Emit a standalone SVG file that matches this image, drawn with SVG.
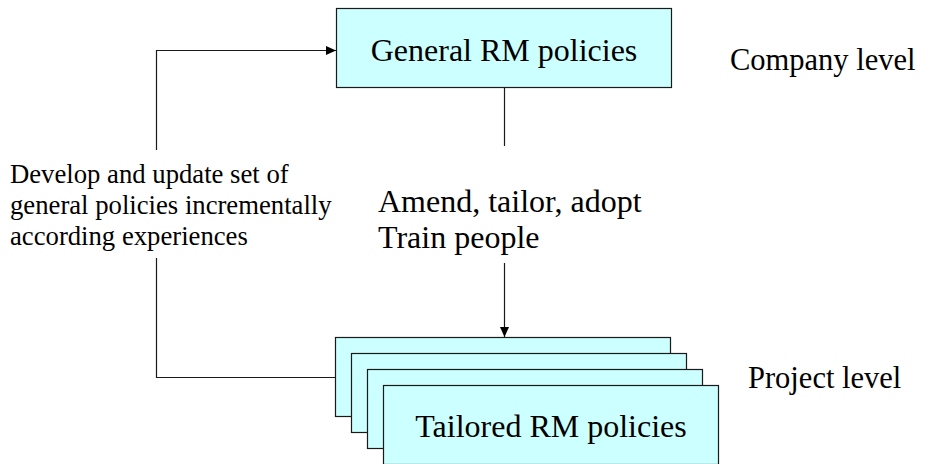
<svg xmlns="http://www.w3.org/2000/svg" width="928" height="464" viewBox="0 0 928 464">
  <style>
    .box { fill: #CCFFFF; stroke: #1a1a1a; stroke-width: 1.2; }
    .lbl { font-family: "Liberation Serif", "Times New Roman", serif; font-size: 32px; fill: #000; }
    .side { font-family: "Liberation Serif", "Times New Roman", serif; font-size: 26.7px; fill: #000; }
    .wire { fill: none; stroke: #1a1a1a; stroke-width: 1.2; }
  </style>
  <defs>
    <marker id="arrow" markerWidth="10" markerHeight="10" refX="10" refY="5" orient="auto" markerUnits="userSpaceOnUse">
      <path d="M0,0.5 L10,5 L0,9.5 Z" fill="#000"/>
    </marker>
  </defs>
  <rect width="928" height="464" fill="#fff"/>

  <!-- connectors -->
  <g id="connectors">
    <!-- general policies down to the tailoring step -->
    <path class="wire" d="M504.5,88 V146"/>
    <path class="wire" d="M504.5,263 V337" marker-end="url(#arrow)"/>
    <!-- feedback loop from project level back to company level -->
    <path class="wire" d="M335,377.5 H156.5 V258"/>
    <path class="wire" d="M156.5,150 V50.5 H336" marker-end="url(#arrow)"/>
  </g>

  <!-- company level -->
  <g id="general-policies">
    <rect class="box" x="336.5" y="8.5" width="335" height="79"/>
    <text class="lbl" x="504" y="61" text-anchor="middle">General RM policies</text>
  </g>

  <!-- project level: stack of tailored policy sheets -->
  <g id="tailored-policies">
    <rect class="box" x="335.5" y="337.5" width="335" height="79"/>
    <rect class="box" x="351.5" y="353.5" width="335" height="79"/>
    <rect class="box" x="367.5" y="369.5" width="335" height="79"/>
    <rect class="box" x="383.5" y="385.5" width="335" height="79"/>
    <text class="lbl" x="551" y="437" text-anchor="middle">Tailored RM policies</text>
  </g>

  <g id="tailor-step">
    <text class="lbl" x="378" y="212">Amend, tailor, adopt</text>
    <text class="lbl" x="378" y="248">Train people</text>
  </g>

  <g id="feedback-note">
    <text class="side" x="10" y="183">Develop and update set of</text>
    <text class="side" x="10" y="214">general policies incrementally</text>
    <text class="side" x="10" y="245">according experiences</text>
  </g>

  <g id="levels">
    <text class="lbl" x="730" y="70" style="font-size:30.5px">Company level</text>
    <text class="lbl" x="748" y="388" style="font-size:30.5px">Project level</text>
  </g>
</svg>
